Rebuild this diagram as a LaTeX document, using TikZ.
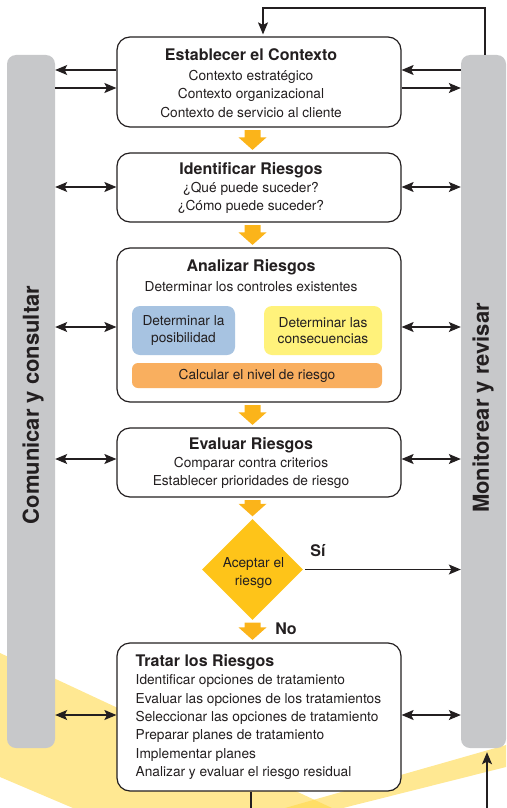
\documentclass[tikz,border=0pt]{standalone}
\usepackage{fontspec}
\setmainfont{TeX Gyre Heros}
\usetikzlibrary{shapes.geometric,arrows.meta,calc}
\definecolor{ink}{HTML}{231F20}
\definecolor{barg}{HTML}{C7C8CA}
\definecolor{blk}{HTML}{FBB41A}
\definecolor{dia}{HTML}{FEC419}
\definecolor{bluebox}{HTML}{A7C3E1}
\definecolor{yelbox}{HTML}{FFF27B}
\definecolor{orbox}{HTML}{F9AF5F}
\definecolor{band}{HTML}{FFD84A}
\newcommand\titlef{\fontsize{16}{18.4}\selectfont\bfseries}
\newcommand\myblockarrow[2]{%
  \fill[blk] ($(#1)+(-8,2.5)$) -- ($(#1)+(8,2.5)$) -- ($(#2)+(8,-15)$) -- ($(#2)+(14,-15)$)
    -- ($(#2)+(0,-2.5)$) -- ($(#2)+(-14,-15)$) -- ($(#2)+(-8,-15)$) -- cycle;}
\begin{document}
\begin{tikzpicture}[x=1pt,y=-1pt,
  font=\fontsize{13.7}{18.4}\selectfont, text=ink,
  >={Stealth[length=12pt,width=10pt,inset=2.5pt]},
  bar/.style={fill=barg, rounded corners=9pt, minimum height=693pt, inner sep=0pt},
  bartext/.style={rotate=90, font=\fontsize{22}{24}\selectfont\bfseries, inner sep=0pt},
  box/.style={draw=ink, line width=1.2pt, rounded corners=13pt, fill=white, minimum width=284pt, inner sep=0pt},
  txt/.style={align=center, inner sep=0pt},
  sub/.style={rounded corners=8pt, inner sep=0pt, align=center, font=\fontsize{13.7}{16.5}\selectfont},
  conn/.style={draw=ink, line width=1.1pt},
  lbl/.style={font=\fontsize{16}{18}\selectfont\bfseries, inner sep=0pt}]
\useasboundingbox (0,0) rectangle (506,808);
% background bands
\fill[band, opacity=0.6] (0,653) -- (332,808) -- (73,808) -- (0,777) -- cycle;
\fill[band, opacity=0.6] (285,808) -- (506,745) -- (506,767) -- (343,808) -- cycle;
% side bars
\node[bar, minimum width=48pt] (L) at (31,401.5) {};
\node[bar, minimum width=45pt] (R) at (483.5,401.5) {};
\node[bartext] (Lt) at (33,405) {Comunicar y consultar};
\node[bartext] (Rt) at (483,408) {Monitorear y revisar};
% boxes
\node[box, minimum height=90pt] (b1) at (259,82) {};
\node[box, minimum height=69pt] (b2) at (259,187.5) {};
\node[box, minimum height=154pt] (b3) at (259,325) {};
\node[box, minimum height=69pt] (b4) at (259,462.5) {};
\node[box, minimum height=148pt] (b5) at (259,717) {};
\node[diamond, fill=dia, minimum width=101pt, minimum height=101pt, inner sep=0pt] (dia) at (252.5,569.5) {};
\coordinate (col) at (252.5,0);
% texts
\node[txt] (t1) at (251,83) {{\titlef Establecer el Contexto}\\[1.5pt] Contexto estratégico\\ Contexto organizacional\\ Contexto de servicio al cliente};
\node[txt] (t2) at (251,188) {{\titlef Identificar Riesgos}\\ ¿Qué puede suceder?\\ ¿Cómo puede suceder?};
\node[txt] (t3a) at (251,267) {\titlef Analizar Riesgos};
\node[txt] (t3b) at (251,287) {Determinar los controles existentes};
\node[sub, fill=bluebox, minimum width=103pt, minimum height=49pt] (s1) at (183.5,330.5) {Determinar la\\ posibilidad};
\node[sub, fill=yelbox, minimum width=118pt, minimum height=49pt] (s2) at (323,330.5) {Determinar las\\ consecuencias};
\node[sub, fill=orbox, rounded corners=6pt, minimum width=250pt, minimum height=25pt] (s3) at (257,375.5) {Calcular el nivel de riesgo};
\node[txt] (t4) at (251,463) {{\titlef Evaluar Riesgos}\\ Comparar contra criterios\\ Establecer prioridades de riesgo};
\node[txt] (dt) at (253.5,573) {Aceptar el\\ riesgo};
\node[txt, align=left, anchor=west] (t5) at (135.5,717) {{\titlef Tratar los Riesgos}\\ Identificar opciones de tratamiento\\ Evaluar las opciones de los tratamientos\\ Seleccionar las opciones de tratamiento\\ Preparar planes de tratamiento\\ Implementar planes\\ Analizar y evaluar el riesgo residual};
\node[lbl] (si) at (318,551) {Sí};
\node[lbl] (no) at (286,629) {No};
% block arrows
\myblockarrow{b1.south -| col}{b2.north -| col}
\myblockarrow{b2.south -| col}{b3.north -| col}
\myblockarrow{b3.south -| col}{b4.north -| col}
\myblockarrow{b4.south -| col}{dia.north}
\myblockarrow{dia.south}{b5.north -| col}
% side connectors
\draw[conn,->] (b1.west |- 0,70) -- (L.east |- 0,70);
\draw[conn,->] (L.east |- 0,88) -- (b1.west |- 0,88);
\draw[conn,->] (R.west |- 0,70) -- (b1.east |- 0,70);
\draw[conn,->] (b1.east |- 0,88) -- (R.west |- 0,88);
\draw[conn,<->] (L.east |- 0,187) -- (b2.west |- 0,187);
\draw[conn,<->] (b2.east |- 0,187) -- (R.west |- 0,187);
\draw[conn,<->] (L.east |- 0,327) -- (b3.west |- 0,327);
\draw[conn,<->] (b3.east |- 0,327) -- (R.west |- 0,327);
\draw[conn,<->] (L.east |- 0,459) -- (b4.west |- 0,459);
\draw[conn,<->] (b4.east |- 0,459) -- (R.west |- 0,459);
\draw[conn,<->] (L.east |- 0,715) -- (b5.west |- 0,715);
\draw[conn,<->] (b5.east |- 0,715) -- (R.west |- 0,715);
\draw[conn,->] ([xshift=2pt]dia.east) -- (R.west |- dia.east);
% loop and exits
\coordinate (lp) at (263,8);
\draw[conn,->,shorten >=2pt] ([xshift=1.5pt]R.north) |- (lp) -- (lp |- b1.north);
\coordinate (bl) at (251,808);
\draw[conn] (bl |- b5.south) -- (bl);
\coordinate (br) at (487,808);
\draw[conn,->,shorten >=4pt] (br) -- (br |- R.south);
\end{tikzpicture}
\end{document}
